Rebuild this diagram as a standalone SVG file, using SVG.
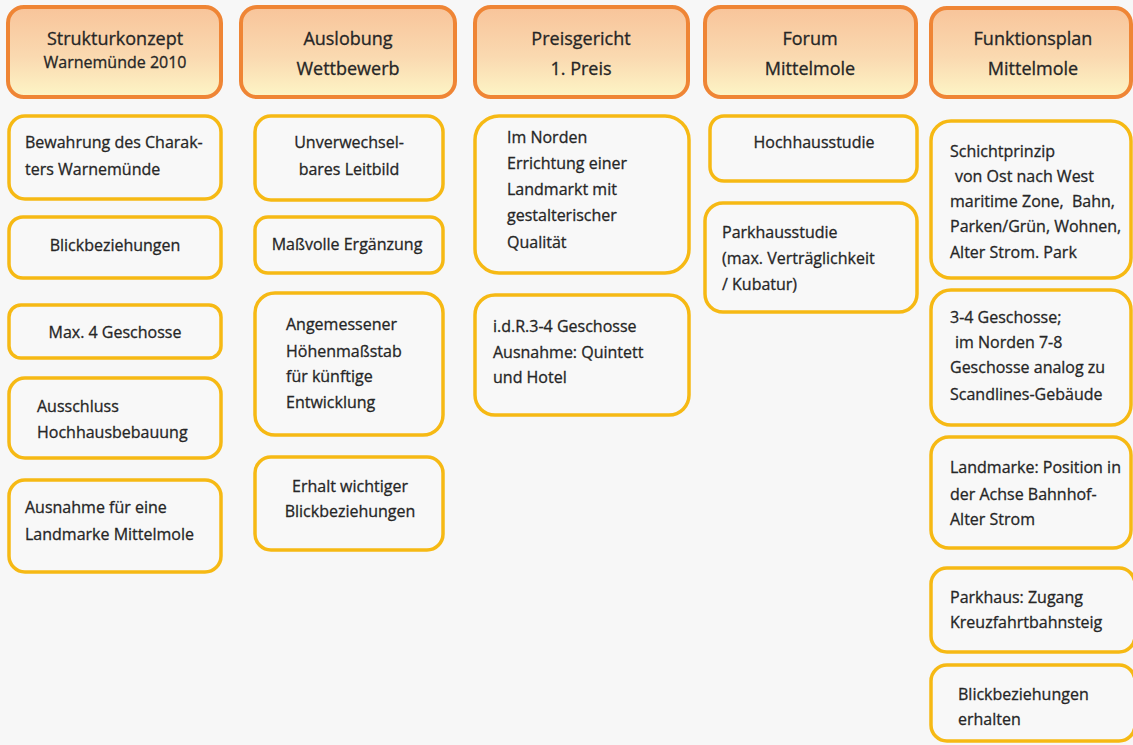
<svg xmlns="http://www.w3.org/2000/svg" width="1133" height="745" viewBox="0 0 1133 745">
  <defs>
    <linearGradient id="hdrFill" x1="0" y1="0" x2="0" y2="1">
      <stop offset="0" stop-color="#f8c49a"/>
      <stop offset="0.55" stop-color="#fad9b0"/>
      <stop offset="1" stop-color="#fdf5c6"/>
    </linearGradient>
    <style>
      .hdr { fill: url(#hdrFill); stroke: #ef8535; stroke-width: 4; }
      .box { fill: #f8f8f8; stroke: #f6b914; stroke-width: 3.5; }
      text { font-family: "Open Sans", "Noto Sans", "Liberation Sans", sans-serif; fill: #262626; stroke: #262626; stroke-width: 0.3; }
      .h { font-size: 18px; text-anchor: middle; }
      .hs { font-size: 16px; text-anchor: middle; }
      .t { font-size: 16px; }
      .c { font-size: 16px; text-anchor: middle; }
    </style>
  </defs>

  <rect x="0" y="0" width="1133" height="745" fill="#f7f7f7"/>

  <!-- column headers -->
  <g id="hdr-strukturkonzept">
    <rect class="hdr" x="8" y="7" width="213" height="90" rx="16"/>
    <text class="h" x="115" y="45">Strukturkonzept</text>
    <text class="hs" x="115" y="68">Warnemünde 2010</text>
  </g>
  <g id="hdr-auslobung">
    <rect class="hdr" x="241" y="7" width="214" height="90" rx="16"/>
    <text class="h" x="348" y="45">Auslobung</text>
    <text class="h" x="348" y="75">Wettbewerb</text>
  </g>
  <g id="hdr-preisgericht">
    <rect class="hdr" x="475" y="7" width="213" height="90" rx="16"/>
    <text class="h" x="581" y="45">Preisgericht</text>
    <text class="h" x="581" y="75">1. Preis</text>
  </g>
  <g id="hdr-forum">
    <rect class="hdr" x="705" y="7" width="211" height="90" rx="16"/>
    <text class="h" x="810" y="45">Forum</text>
    <text class="h" x="810" y="75">Mittelmole</text>
  </g>
  <g id="hdr-funktionsplan">
    <rect class="hdr" x="931" y="8" width="200" height="89" rx="16"/>
    <text class="h" x="1033" y="45">Funktionsplan</text>
    <text class="h" x="1033" y="75">Mittelmole</text>
  </g>

  <!-- Strukturkonzept -->
  <g id="sk-charakter">
    <rect class="box" x="9" y="116" width="212" height="83" rx="16"/>
    <text class="t" x="25" y="148">Bewahrung des Charak-</text>
    <text class="t" x="25" y="175">ters Warnemünde</text>
  </g>
  <g id="sk-blick">
    <rect class="box" x="9" y="217" width="212" height="61" rx="14"/>
    <text class="c" x="115" y="251">Blickbeziehungen</text>
  </g>
  <g id="sk-geschosse">
    <rect class="box" x="9" y="305" width="212" height="53" rx="12"/>
    <text class="c" x="115" y="338">Max. 4 Geschosse</text>
  </g>
  <g id="sk-ausschluss">
    <rect class="box" x="9" y="378" width="212" height="80" rx="16"/>
    <text class="t" x="37" y="412">Ausschluss</text>
    <text class="t" x="37" y="438">Hochhausbebauung</text>
  </g>
  <g id="sk-ausnahme">
    <rect class="box" x="9" y="480" width="212" height="92" rx="16"/>
    <text class="t" x="25" y="513">Ausnahme für eine</text>
    <text class="t" x="25" y="540">Landmarke Mittelmole</text>
  </g>

  <!-- Auslobung Wettbewerb -->
  <g id="aw-leitbild">
    <rect class="box" x="255" y="116" width="188" height="84" rx="16"/>
    <text class="c" x="349" y="148">Unverwechsel-</text>
    <text class="c" x="349" y="175">bares Leitbild</text>
  </g>
  <g id="aw-ergaenzung">
    <rect class="box" x="255" y="217" width="188" height="56" rx="13"/>
    <text class="c" x="347" y="250">Maßvolle Ergänzung</text>
  </g>
  <g id="aw-hoehenmassstab">
    <rect class="box" x="255" y="293" width="188" height="142" rx="20"/>
    <text class="t" x="286" y="330">Angemessener</text>
    <text class="t" x="286" y="357">Höhenmaßstab</text>
    <text class="t" x="286" y="382">für künftige</text>
    <text class="t" x="286" y="408">Entwicklung</text>
  </g>
  <g id="aw-blick">
    <rect class="box" x="255" y="457" width="188" height="93" rx="16"/>
    <text class="c" x="350" y="492">Erhalt wichtiger</text>
    <text class="c" x="350" y="517">Blickbeziehungen</text>
  </g>

  <!-- Preisgericht 1. Preis -->
  <g id="pg-landmarke">
    <rect class="box" x="475" y="116" width="214" height="157" rx="24"/>
    <text class="t" x="507" y="143">Im Norden</text>
    <text class="t" x="507" y="169">Errichtung einer</text>
    <text class="t" x="507" y="195">Landmarkt mit</text>
    <text class="t" x="507" y="221">gestalterischer</text>
    <text class="t" x="507" y="248">Qualität</text>
  </g>
  <g id="pg-geschosse">
    <rect class="box" x="475" y="295" width="214" height="120" rx="20"/>
    <text class="t" x="493" y="332">i.d.R.3-4 Geschosse</text>
    <text class="t" x="493" y="358">Ausnahme: Quintett</text>
    <text class="t" x="493" y="383">und Hotel</text>
  </g>

  <!-- Forum Mittelmole -->
  <g id="fm-hochhaus">
    <rect class="box" x="710" y="116" width="207" height="65" rx="14"/>
    <text class="c" x="814" y="148">Hochhausstudie</text>
  </g>
  <g id="fm-parkhaus">
    <rect class="box" x="705" y="203" width="212" height="109" rx="18"/>
    <text class="t" x="722" y="238">Parkhausstudie</text>
    <text class="t" x="722" y="264">(max. Verträglichkeit</text>
    <text class="t" x="722" y="290">/ Kubatur)</text>
  </g>

  <!-- Funktionsplan Mittelmole -->
  <g id="fp-schichtprinzip">
    <rect class="box" x="931" y="121" width="200" height="157" rx="20"/>
    <text class="t" x="950" y="157">Schichtprinzip</text>
    <text class="t" x="955" y="182">von Ost nach West</text>
    <text class="t" x="950" y="207" xml:space="preserve">maritime Zone,  Bahn,</text>
    <text class="t" x="950" y="232">Parken/Grün, Wohnen,</text>
    <text class="t" x="950" y="258">Alter Strom. Park</text>
  </g>
  <g id="fp-geschosse">
    <rect class="box" x="931" y="290" width="200" height="135" rx="20"/>
    <text class="t" x="950" y="323">3-4 Geschosse;</text>
    <text class="t" x="955" y="348">im Norden 7-8</text>
    <text class="t" x="950" y="373">Geschosse analog zu</text>
    <text class="t" x="950" y="400">Scandlines-Gebäude</text>
  </g>
  <g id="fp-landmarke">
    <rect class="box" x="931" y="437" width="200" height="111" rx="18"/>
    <text class="t" x="950" y="473">Landmarke: Position in</text>
    <text class="t" x="950" y="500">der Achse Bahnhof-</text>
    <text class="t" x="950" y="525">Alter Strom</text>
  </g>
  <g id="fp-parkhaus">
    <rect class="box" x="931" y="568" width="204" height="84" rx="16"/>
    <text class="t" x="950" y="603">Parkhaus: Zugang</text>
    <text class="t" x="950" y="628">Kreuzfahrtbahnsteig</text>
  </g>
  <g id="fp-blick">
    <rect class="box" x="931" y="665" width="204" height="76" rx="16"/>
    <text class="t" x="958" y="700">Blickbeziehungen</text>
    <text class="t" x="958" y="725">erhalten</text>
  </g>

  <g id="connectors"/>
</svg>
